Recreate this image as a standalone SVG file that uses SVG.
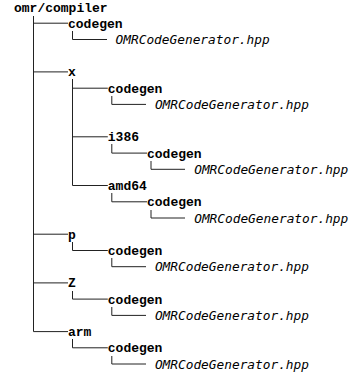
<svg xmlns="http://www.w3.org/2000/svg" width="349" height="374" viewBox="0 0 349 374">
<style>
.d{font-family:"Liberation Mono","Courier New",monospace;font-weight:bold;font-size:13px;fill:#000}
.f{font-family:"DejaVu Sans Mono",monospace;font-style:italic;font-size:12.8px;fill:#000}
.c path{fill:none;stroke:#222;stroke-width:1}
</style>
<rect width="349" height="374" fill="#fff"/>
<g class="c" id="connectors">
<path d="M33.5 16V331.6"/>
<path d="M33.5 23.2H68"/>
<path d="M72.5 31V39.5H107"/>
<path d="M33.5 71.9H68"/>
<path d="M72.5 79V185.5"/>
<path d="M72.5 88.2H107.8"/>
<path d="M111.8 96V104.4H146"/>
<path d="M72.5 136.8H107.8"/>
<path d="M111.8 144V153.1H147"/>
<path d="M151 161V169.3H185"/>
<path d="M72.5 185.5H107.8"/>
<path d="M111.8 193V201.8H147"/>
<path d="M151 210V218H185"/>
<path d="M33.5 234.2H68"/>
<path d="M72.5 242V250.5H107.8"/>
<path d="M111.8 258V266.7H146"/>
<path d="M33.5 282.9H68"/>
<path d="M72.5 291V299.1H107.8"/>
<path d="M111.8 307V315.4H146"/>
<path d="M33.5 331.6H68"/>
<path d="M72.5 339V347.8H107.8"/>
<path d="M111.8 356V364H146"/>
</g>
<g id="root"><text class="d" x="14" y="11.5">omr/compiler</text></g>
<g id="codegen1"><text class="d" x="68" y="27.7">codegen</text></g>
<g id="file1"><text class="f" x="115.6" y="44">OMRCodeGenerator.hpp</text></g>
<g id="x"><text class="d" x="68" y="76.4">x</text></g>
<g id="x-codegen"><text class="d" x="107.8" y="92.7">codegen</text></g>
<g id="x-file"><text class="f" x="154.9" y="108.9">OMRCodeGenerator.hpp</text></g>
<g id="i386"><text class="d" x="107.8" y="141.3">i386</text></g>
<g id="i386-codegen"><text class="d" x="147" y="157.6">codegen</text></g>
<g id="i386-file"><text class="f" x="194.2" y="173.8">OMRCodeGenerator.hpp</text></g>
<g id="amd64"><text class="d" x="107.8" y="190">amd64</text></g>
<g id="amd64-codegen"><text class="d" x="147" y="206.3">codegen</text></g>
<g id="amd64-file"><text class="f" x="194.2" y="222.5">OMRCodeGenerator.hpp</text></g>
<g id="p"><text class="d" x="68" y="238.7">p</text></g>
<g id="p-codegen"><text class="d" x="107.8" y="255">codegen</text></g>
<g id="p-file"><text class="f" x="154.9" y="271.2">OMRCodeGenerator.hpp</text></g>
<g id="Z"><text class="d" x="68" y="287.4">Z</text></g>
<g id="Z-codegen"><text class="d" x="107.8" y="303.6">codegen</text></g>
<g id="Z-file"><text class="f" x="154.9" y="319.9">OMRCodeGenerator.hpp</text></g>
<g id="arm"><text class="d" x="68" y="336.1">arm</text></g>
<g id="arm-codegen"><text class="d" x="107.8" y="352.3">codegen</text></g>
<g id="arm-file"><text class="f" x="154.9" y="368.5">OMRCodeGenerator.hpp</text></g>
</svg>
